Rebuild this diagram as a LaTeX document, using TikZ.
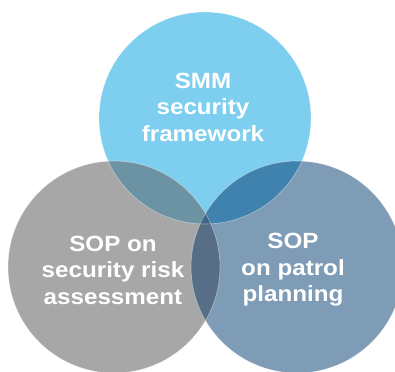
\documentclass[tikz,border=0pt]{standalone}
\usepackage{fontspec}
\setmainfont[FakeStretch=1.1]{Liberation Sans}
\usepackage{tikz}
\usetikzlibrary{positioning}
\definecolor{topblue}{HTML}{7ECEEF}
\definecolor{leftgray}{HTML}{A7A7A7}
\definecolor{rightblue}{HTML}{7E9CB6}
\definecolor{topleft}{HTML}{6C93A3}
\definecolor{topright}{HTML}{3F82AE}
\definecolor{leftright}{HTML}{566F86}
\definecolor{middle}{HTML}{3E6585}
\tikzset{
    ring/.style={circle, minimum size=212pt, inner sep=0pt},
    label/.style={text=white, font=\bfseries\fontsize{22}{26.5}\selectfont, align=center},
    rim/.style={draw=white, draw opacity=0.45, line width=0.6pt},
}
\begin{document}
\begin{tikzpicture}[x=1pt, y=-1pt]
    \useasboundingbox (0,0) rectangle (395,371);
    % the three sets
    \node [ring, fill=topblue] (smm) at (205,118) {};
    \node [ring, fill=leftgray] (risk) at (114,267) {};
    \node [ring, fill=rightblue] (patrol) at (297,267) {};
    % overlaps
    \begin{scope}
        \clip (smm.center) circle (106);
        \fill [topleft] (risk.center) circle (106);
        \fill [topright] (patrol.center) circle (106);
    \end{scope}
    \begin{scope}
        \clip (risk.center) circle (106);
        \fill [leftright] (patrol.center) circle (106);
        \clip (patrol.center) circle (106);
        \fill [middle] (smm.center) circle (106);
    \end{scope}
    % thin rims
    \draw [rim] (smm.center) circle (106);
    \draw [rim] (risk.center) circle (106);
    \draw [rim] (patrol.center) circle (106);
    % texts
    \node [label] (smmtext) at (203,107) {SMM\\security\\framework};
    \node [label] (risktext) at (113,270) {SOP on\\security risk\\assessment};
    \node [label] (patroltext) at (293,270) {SOP\\on patrol\\planning};
\end{tikzpicture}
\end{document}
